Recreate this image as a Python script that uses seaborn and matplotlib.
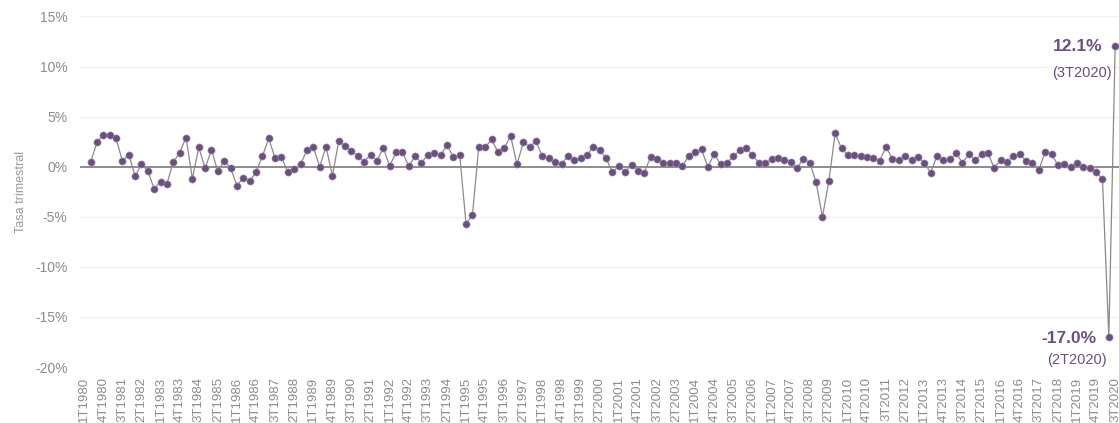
import numpy as np
import pandas as pd
import matplotlib
matplotlib.use("Agg")
import matplotlib.pyplot as plt
import seaborn as sns

# Quarter categories 1T1980 .. 3T2020
years = list(range(1980, 2021))
quarters = [f"{q}T{y}" for y in years for q in (1, 2, 3, 4)][:163]

# Quarterly growth rate (%) from 2T1980 to 3T2020 (1T1980 has no value)
growth = [
    0.43, 2.43, 3.2, 3.2, 2.83, 0.57, 1.2, -0.93, 0.23, -0.4,
    -2.23, -1.5, -1.7, 0.47, 1.4, 2.9, -1.2, 1.93, -0.13, 1.67,
    -0.47, 0.6, -0.13, -1.9, -1.1, -1.43, -0.53, 1.03, 2.83, 0.83,
    0.97, -0.57, -0.23, 0.27, 1.63, 1.97, 0.0, 2.0, -0.9, 2.57,
    2.1, 1.57, 1.1, 0.5, 1.2, 0.6, 1.87, 0.07, 1.43, 1.43,
    0.07, 1.03, 0.4, 1.2, 1.37, 1.13, 2.2, 0.97, 1.2, -5.7,
    -4.83, 2.0, 1.93, 2.73, 1.47, 1.83, 3.1, 0.23, 2.43, 2.0,
    2.53, 1.03, 0.83, 0.5, 0.23, 1.1, 0.63, 0.83, 1.13, 2.0,
    1.67, 0.83, -0.57, 0.1, -0.5, 0.17, -0.4, -0.6, 0.97, 0.73,
    0.4, 0.33, 0.33, 0.07, 1.1, 1.47, 1.73, -0.03, 1.3, 0.23,
    0.4, 1.03, 1.63, 1.87, 1.13, 0.4, 0.33, 0.73, 0.83, 0.67,
    0.47, -0.13, 0.77, 0.4, -1.53, -5.0, -1.47, 3.33, 1.83, 1.13,
    1.13, 1.03, 0.97, 0.87, 0.6, 2.0, 0.73, 0.63, 1.03, 0.67,
    0.93, 0.4, -0.6, 1.1, 0.67, 0.73, 1.33, 0.4, 1.23, 0.67,
    1.27, 1.33, -0.13, 0.67, 0.5, 1.07, 1.23, 0.6, 0.4, -0.33,
    1.5, 1.23, 0.17, 0.23, 0.0, 0.33, 0.0, -0.13, -0.57, -1.2,
    -17.0, 12.1,
]
values = [np.nan] + growth

y_ticks = [15, 10, 5, 0, -5, -10, -15, -20]

df = pd.DataFrame({"pos": np.arange(len(quarters)), "quarter": quarters, "value": values})
df = df.dropna()

sns.set_style("white")
plt.rcParams["font.family"] = ["Liberation Sans", "DejaVu Sans"]

W, H = 1119, 423
fig = plt.figure(figsize=(W / 100, H / 100), dpi=100)
ax = fig.add_axes([80 / W, 1 - 367 / H, (W - 80) / W, (367 - 16.5) / H])

purple = "#6b4f80"
gray_text = "#8c8c8c"

for t in y_ticks:
    if t != 0:
        ax.axhline(t, color="#f1f1f1", lw=1, zorder=0)
ax.axhline(0, color="#6e6e6e", lw=1.1, zorder=1)

sns.lineplot(data=df, x="pos", y="value", color="#8a8a8a", lw=0.9, ax=ax, zorder=2)
sns.scatterplot(data=df, x="pos", y="value", color=purple, s=27, edgecolor="#a295ac",
                linewidth=0.4, ax=ax, zorder=3)

ax.set_xlim(-0.66, 162.6)
ax.set_ylim(-20, 15)
ax.set_yticks(y_ticks)
ax.set_yticklabels([f"{t}%" for t in y_ticks], fontsize=10, color=gray_text)
ax.set_xticks(range(0, len(quarters), 3))
ax.set_xticklabels(quarters[::3], rotation=90, fontsize=9.5, color=gray_text)
ax.tick_params(axis="y", length=0, pad=9)
ax.tick_params(axis="x", length=0, pad=7)
ax.set_xlabel("")
ax.set_ylabel("Tasa trimestral", fontsize=9, color="#999999", labelpad=6)
for s in ax.spines.values():
    s.set_visible(False)

# Annotations of the last two quarters
last = df.iloc[-1]
prev = df.iloc[-2]
ax.annotate(f"{last['value']:.1f}%", xy=(last["pos"], last["value"]), xytext=(-9, -1),
            textcoords="offset points", ha="right", va="center", fontsize=12.5,
            fontweight="bold", color=purple)
ax.annotate(f"({last['quarter']})", xy=(last["pos"], last["value"]), xytext=(-2.5, -19.5),
            textcoords="offset points", ha="right", va="center", fontsize=10.5, color=purple)
ax.annotate(f"{prev['value']:.1f}%", xy=(prev["pos"], prev["value"]), xytext=(-9, -1),
            textcoords="offset points", ha="right", va="center", fontsize=12.5,
            fontweight="bold", color=purple)
ax.annotate(f"({prev['quarter']})", xy=(prev["pos"], prev["value"]), xytext=(-1.5, -16.5),
            textcoords="offset points", ha="right", va="center", fontsize=10.5, color=purple)

fig.savefig("out.png", dpi=100)
